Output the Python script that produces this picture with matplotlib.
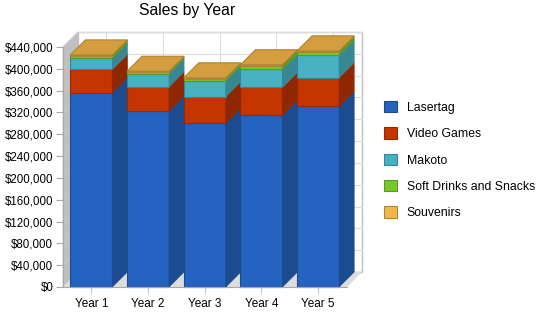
import numpy as np
import matplotlib.pyplot as plt
from matplotlib.patches import Polygon, Patch

plt.rcParams['font.family'] = ['Liberation Sans', 'DejaVu Sans']

years = ['Year 1', 'Year 2', 'Year 3', 'Year 4', 'Year 5']
lasertag = [356000, 322000, 300000, 315000, 331000]
video_games = [43000, 45000, 49000, 51000, 53000]
makoto = [20000, 24000, 29000, 33000, 41000]
soft_drinks = [5000, 3000, 4000, 7000, 6500]
souvenirs = [1500, 1500, 1500, 1500, 1500]

series = [
    ('Lasertag', lasertag, '#2563c0', '#1d4b8f', '#1d4b8f'),
    ('Video Games', video_games, '#c43500', '#8f2800', '#992a00'),
    ('Makoto', makoto, '#48b1c4', '#388795', '#2e8a9a'),
    ('Soft Drinks and Snacks', soft_drinks, '#78c92c', '#5a9a20', '#5a9a20'),
    ('Souvenirs', souvenirs, '#d49e40', '#a87c30', '#b08430'),
]
legend_cols = ['#2563c0', '#c43500', '#48b1c4', '#78c92c', '#f0b84c']
legend_edges = ['#1d4b8f', '#992a00', '#2e8a9a', '#5a9a20', '#b08430']

ymax = 440000
ticks = np.arange(0, ymax + 1, 40000)
dx = 0.265
dy = 27500
w = 0.74

fig = plt.figure(figsize=(5.5, 3.18), dpi=100)
ax = fig.add_axes([63 / 550, 31 / 318, 283.5 / 550, 240 / 318])
ax.set_xlim(-0.5, 4.5)
ax.set_ylim(0, ymax)
x0, x1 = -0.5, 4.5

# walls and floor
ax.add_patch(Polygon([(x0 + dx, dy), (x1 + dx, dy), (x1 + dx, ymax + dy), (x0 + dx, ymax + dy)],
                     closed=True, fc='white', ec='#c0c0c0', lw=1, clip_on=False, zorder=0))
ax.add_patch(Polygon([(x0, 0), (x0 + dx, dy), (x0 + dx, ymax + dy), (x0, ymax)],
                     closed=True, fc='#c0c0c0', ec='#c0c0c0', lw=0.5, clip_on=False, zorder=0))
ax.add_patch(Polygon([(x0, 0), (x1, 0), (x1 + dx, dy), (x0 + dx, dy)],
                     closed=True, fc='#dcdcdc', ec='#dcdcdc', lw=0.5, clip_on=False, zorder=0))
for t in ticks[1:]:
    ax.plot([x0 + dx, x1 + dx], [t + dy, t + dy], color='#dcdcdc', lw=0.8, clip_on=False, zorder=0.5)
    ax.plot([x0, x0 + dx], [t, t + dy], color='#cacaca', lw=0.6, clip_on=False, zorder=0.5)
for i in range(len(years)):
    ax.plot([i + dx, i + dx], [dy, ymax + dy], color='#dcdcdc', lw=0.8, clip_on=False, zorder=0.5)

# stacked 3d bars
xs = np.arange(len(years))
bottoms = np.zeros(len(years))
for k, (name, vals, col, side, edge) in enumerate(series):
    vals = np.array(vals, dtype=float)
    ax.bar(xs, vals, w, bottom=bottoms, color=col, edgecolor=edge, lw=0.8, zorder=2, clip_on=False)
    for i in xs:
        b = bottoms[i]
        t = b + vals[i]
        r = i + w / 2
        ax.add_patch(Polygon([(r, b), (r + dx, b + dy), (r + dx, t + dy), (r, t)], closed=True,
                             fc=side, ec=side, lw=0.5, zorder=2, clip_on=False))
        if k == len(series) - 1:
            l = i - w / 2
            ax.add_patch(Polygon([(l, t), (l + dx, t + dy), (r + dx, t + dy), (r, t)], closed=True,
                                 fc=col, ec=edge, lw=0.8, zorder=3, clip_on=False))
    bottoms = bottoms + vals

for s in ['top', 'right']:
    ax.spines[s].set_visible(False)
for s in ['left', 'bottom']:
    ax.spines[s].set_color('#a8a8a8')
    ax.spines[s].set_zorder(4)
ax.set_yticks(ticks)
ax.set_yticklabels(['${:,}'.format(int(t)) for t in ticks], fontsize=8.3)
ax.set_xticks(xs)
ax.set_xticklabels(years, fontsize=8.5)
ax.tick_params(axis='y', length=5, color='#a8a8a8', pad=2)
ax.tick_params(axis='x', length=5, color='#c8c8c8', pad=3)
ax.patch.set_visible(False)

fig.text(187 / 550, 1 - 11 / 318, 'Sales by Year', ha='center', va='center', fontsize=11.3)

handles = [Patch(fc=c, ec=e, lw=0.8) for c, e in zip(legend_cols, legend_edges)]
fig.legend(handles, [s[0] for s in series], loc='upper left', bbox_to_anchor=(378 / 550, 1 - 95 / 318),
           frameon=False, fontsize=8.8, handlelength=1.05, handleheight=1.05, handletextpad=0.8,
           labelspacing=1.1, borderpad=0)

fig.savefig('out.png', dpi=100)
